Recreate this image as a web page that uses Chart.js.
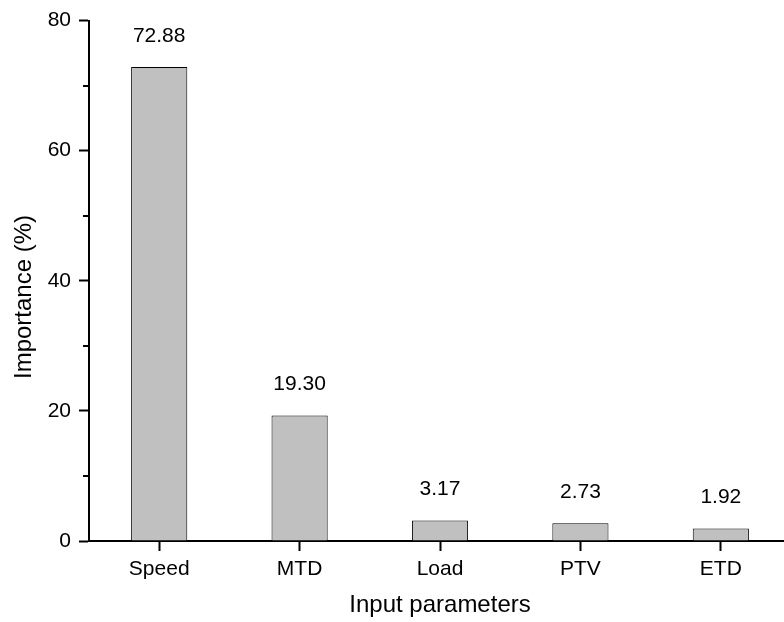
<!DOCTYPE html>
<html>
<head>
<meta charset="utf-8">
<script src="https://cdn.jsdelivr.net/npm/chart.js@4/dist/chart.umd.min.js"></script>
<style>
  body { margin: 0; background: #fff; }
  #chart { display: block; }
</style>
</head>
<body>
<canvas id="chart" width="784" height="622"></canvas>
<script>
const categories = ["Speed", "MTD", "Load", "PTV", "ETD"];
const importance = [72.88, 19.30, 3.17, 2.73, 1.92];
const yTicks = [0, 20, 40, 60, 80];
const yMinorTicks = [10, 30, 50, 70];

const FONT = "Arial, 'Liberation Sans', sans-serif";

// minor y ticks, value labels above bars and both axis titles
const extras = {
    id: 'extras',
    afterDraw(chart) {
        const ctx = chart.ctx;
        const y = chart.scales.y;
        const x = chart.scales.x;
        const left = chart.chartArea.left;
        ctx.save();
        ctx.strokeStyle = '#000';
        ctx.lineWidth = 2;
        for (const v of yMinorTicks) {
            const py = Math.round(y.getPixelForValue(v));
            ctx.beginPath();
            ctx.moveTo(left - 6, py);
            ctx.lineTo(left, py);
            ctx.stroke();
        }

        ctx.fillStyle = '#000';
        ctx.font = '21px ' + FONT;
        ctx.textAlign = 'center';
        ctx.textBaseline = 'middle';
        chart.getDatasetMeta(0).data.forEach((bar, i) => {
            ctx.fillText(importance[i].toFixed(2), bar.x, bar.y - 31);
        });

        ctx.font = '24px ' + FONT;
        ctx.textBaseline = 'alphabetic';
        ctx.fillText('Input parameters', x.getPixelForValue(3), 612);

        ctx.translate(31, 297);
        ctx.rotate(-Math.PI / 2);
        ctx.fillText('Importance (%)', 0, 0);
        ctx.restore();
    }
};

new Chart(document.getElementById('chart').getContext('2d'), {
    type: 'bar',
    data: {
        datasets: [{
            data: importance.map((v, i) => ({ x: i + 1, y: v })),
            backgroundColor: '#c0c0c0',
            borderColor: '#000',
            borderWidth: 1,
            barPercentage: 0.4,
            categoryPercentage: 1.0,
        }],
    },
    options: {
        responsive: false,
        animation: false,
        layout: { padding: { left: 0, right: 0, top: 20, bottom: 0 } },
        plugins: {
            legend: { display: false },
            tooltip: { enabled: false },
        },
        scales: {
            x: {
                type: 'linear',
                min: 0.5,
                max: 5.45,
                offset: false,
                afterBuildTicks: s => { s.ticks = categories.map((c, i) => ({ value: i + 1 })); },
                afterFit: s => { s.height = 81; },
                ticks: {
                    callback: v => categories[v - 1],
                    color: '#000',
                    font: { family: FONT, size: 21 },
                    padding: 6,
                    maxRotation: 0,
                    autoSkip: false,
                },
                grid: {
                    offset: false,
                    drawOnChartArea: false,
                    tickLength: 10,
                    tickWidth: 2,
                    tickColor: '#000',
                },
                border: { color: '#000', width: 2 },
            },
            y: {
                min: 0,
                max: 80,
                afterBuildTicks: s => { s.ticks = yTicks.map(v => ({ value: v })); },
                afterFit: s => { s.width = 89; },
                ticks: {
                    color: '#000',
                    font: { family: FONT, size: 21 },
                    padding: 8,
                },
                grid: {
                    drawOnChartArea: false,
                    tickLength: 10,
                    tickWidth: 2,
                    tickColor: '#000',
                },
                border: { color: '#000', width: 2 },
            },
        },
    },
    plugins: [extras],
});
</script>
</body>
</html>
